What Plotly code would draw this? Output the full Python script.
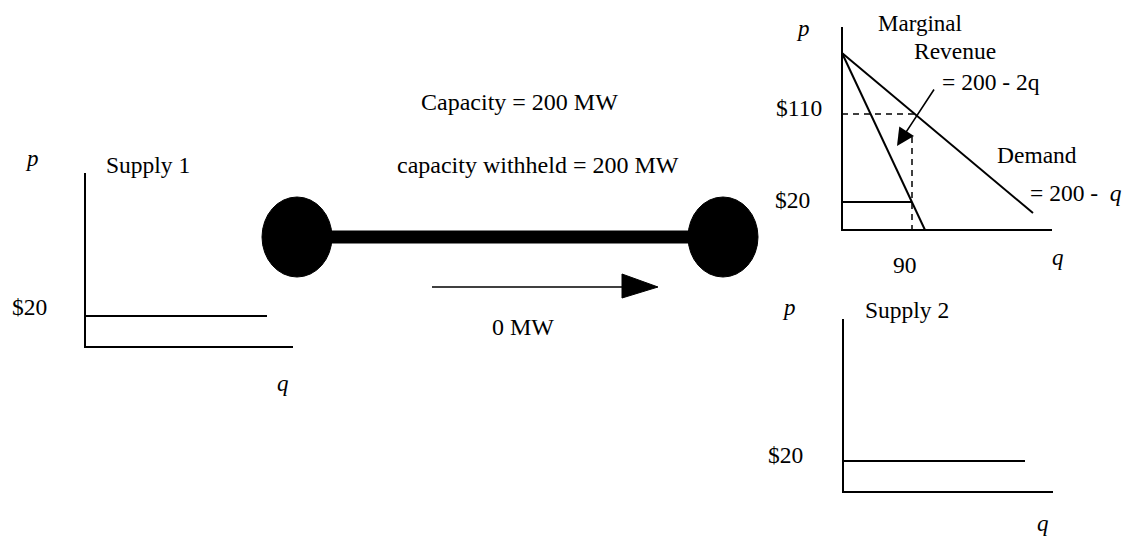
import plotly.graph_objects as go

# ---- canvas coordinates (x right, y down, page pixels) ----
# Supply 1 panel
s1_axes_x = [85, 85, 293]
s1_axes_y = [173, 347, 347]
s1_supply_x = [85, 267]
s1_supply_y = [316, 316]

# Market panel (top right)
m_axes_x = [842, 842, 1052]
m_axes_y = [27, 230, 230]
m_demand_x = [842, 1033]
m_demand_y = [53, 213]
m_mr_x = [842, 925]
m_mr_y = [53, 230]
m_p110_x = [842, 915]
m_p110_y = [114, 114]
m_q90_x = [912, 912]
m_q90_y = [137, 230]
m_cost_x = [842, 912]
m_cost_y = [202, 202]
m_callout_from = (935, 88)
m_callout_to = (897, 146)

# Supply 2 panel (bottom right)
s2_axes_x = [843, 843, 1053]
s2_axes_y = [319, 492, 492]
s2_supply_x = [843, 1025]
s2_supply_y = [461, 461]

# Transmission line
node_x = [297, 723]
node_y = [237, 237]
node_rx = 35
node_ry = 40
flow_x = [432, 625]
flow_y = [287, 287]
flow_head_x = [622, 658, 622, 622]
flow_head_y = [274, 287, 298, 274]

# Text labels: (text, x, y, size, italic)
labels = [
    ("p", 32, 158, 23, True),
    ("Supply 1", 148, 165, 23.5, False),
    ("$20", 29, 307, 23.5, False),
    ("q", 283, 383, 23, True),
    ("Capacity = 200 MW", 519, 102, 24, False),
    ("capacity withheld = 200 MW", 538, 165, 24, False),
    ("0 MW", 523, 327, 24, False),
    ("p", 803, 28, 23, True),
    ("Marginal", 920, 23, 23, False),
    ("Revenue", 955, 51, 23.5, False),
    ("= 200 - 2q", 991, 82, 23.5, False),
    ("$110", 799, 108, 23.5, False),
    ("Demand", 1037, 155, 23.5, False),
    ("= 200 -  <i>q</i>", 1076, 193, 23.5, False),
    ("$20", 792, 200, 23.5, False),
    ("90", 905, 265, 23.5, False),
    ("q", 1058, 257, 23, True),
    ("p", 789, 307, 23, True),
    ("Supply 2", 907, 310, 23.5, False),
    ("$20", 785, 455, 23.5, False),
    ("q", 1043, 523, 23, True),
]

FONT = "Liberation Serif, Times New Roman, serif"
fig = go.Figure()

def add_line(xs, ys, width=2, dash="solid"):
    fig.add_trace(go.Scatter(x=xs, y=ys, mode="lines",
                             line=dict(color="black", width=width, dash=dash),
                             hoverinfo="skip", showlegend=False))

add_line(s1_axes_x, s1_axes_y)
add_line(s1_supply_x, s1_supply_y)
add_line(m_axes_x, m_axes_y)
add_line(m_demand_x, m_demand_y)
add_line(m_mr_x, m_mr_y)
add_line(m_p110_x, m_p110_y, width=1.5, dash="6px,5px")
add_line(m_q90_x, m_q90_y, width=1.5, dash="6px,5px")
add_line(m_cost_x, m_cost_y)
add_line(s2_axes_x, s2_axes_y)
add_line(s2_supply_x, s2_supply_y)

# thick transmission line
add_line(node_x, node_y, width=13)
# flow arrow
add_line(flow_x, flow_y, width=1.5)
fig.add_trace(go.Scatter(x=flow_head_x, y=flow_head_y, mode="lines", fill="toself",
                         fillcolor="black", line=dict(color="black", width=1),
                         hoverinfo="skip", showlegend=False))

shapes = []
for cx, cy in zip(node_x, node_y):
    shapes.append(dict(type="circle", xref="x", yref="y",
                       x0=cx - node_rx, x1=cx + node_rx,
                       y0=cy - node_ry, y1=cy + node_ry,
                       fillcolor="black", line=dict(color="black", width=1)))

annotations = []
for text, x, y, size, italic in labels:
    t = f"<i>{text}</i>" if italic else text
    annotations.append(dict(x=x, y=y, xref="x", yref="y", text=t, showarrow=False,
                            font=dict(family=FONT, size=size, color="black"),
                            xanchor="center", yanchor="middle", borderpad=0))

annotations.append(dict(x=m_callout_to[0], y=m_callout_to[1], xref="x", yref="y",
                        ax=m_callout_from[0], ay=m_callout_from[1], axref="x", ayref="y",
                        text="", showarrow=True, arrowhead=2, arrowsize=2.2,
                        arrowwidth=1.6, arrowcolor="black"))

# the page body has an 8px margin: size the figure to the remaining area and
# offset the ranges so that data coordinates equal page pixels
OFF = 8
fig.update_layout(
    width=1131 - OFF, height=536 - OFF,
    margin=dict(l=0, r=0, t=0, b=0),
    paper_bgcolor="white", plot_bgcolor="white",
    xaxis=dict(range=[OFF, 1131], visible=False, fixedrange=True),
    yaxis=dict(range=[536, OFF], visible=False, fixedrange=True),
    shapes=shapes, annotations=annotations, showlegend=False,
)

fig.write_html("out.html")
